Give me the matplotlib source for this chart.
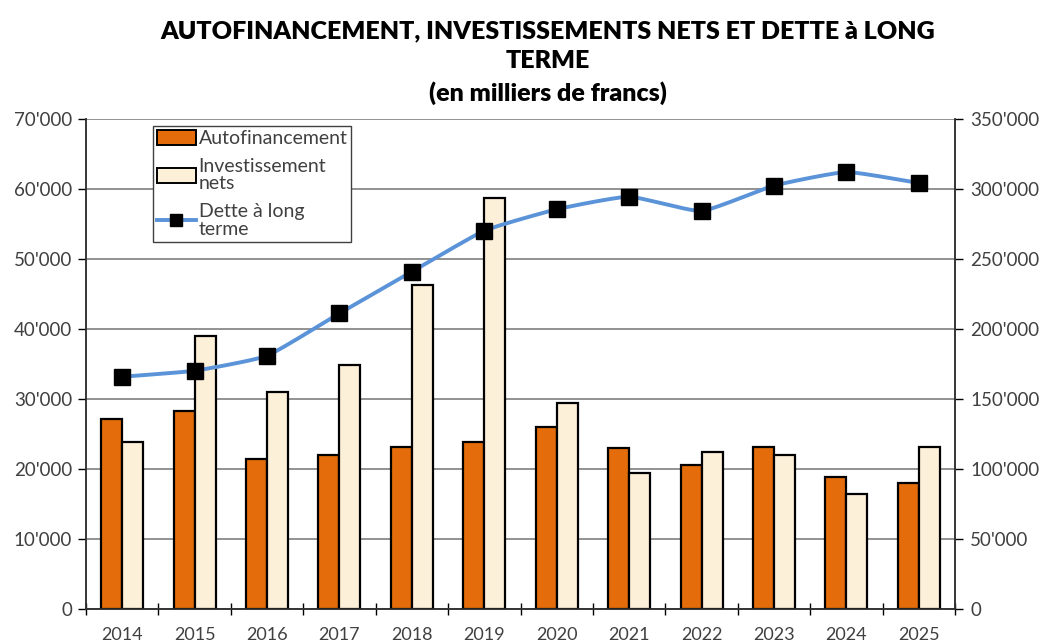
import numpy as np
import matplotlib
matplotlib.use("Agg")
import matplotlib.pyplot as plt
from matplotlib.ticker import FuncFormatter, FixedLocator
from matplotlib.patches import Patch
from matplotlib.lines import Line2D

years = ["2014", "2015", "2016", "2017", "2018", "2019",
         "2020", "2021", "2022", "2023", "2024", "2025"]
autofinancement = [27100, 28300, 21500, 22000, 23100, 23900,
                   26000, 23000, 20600, 23100, 18800, 18000]
investissements = [23900, 39000, 31000, 34800, 46300, 58700,
                   29400, 19400, 22500, 22000, 16500, 23200]
dette = [165900, 170200, 180900, 211200, 240900, 270200,
         285500, 294500, 284300, 302400, 312100, 304300]

label_auto = "Autofinancement"
label_inv = "Investissement\nnets"
label_dette = "Dette à long\nterme"
title = "AUTOFINANCEMENT, INVESTISSEMENTS NETS ET DETTE à LONG\nTERME\n(en milliers de francs)"

plt.rcParams['font.family'] = ['Lato', 'DejaVu Sans']

W, H = 1043, 642
fig = plt.figure(figsize=(W / 100, H / 100), dpi=100)
ax = fig.add_axes([86 / W, 1 - 609 / H, (955 - 86) / W, (609 - 119) / H])
ax2 = ax.twinx()

x = np.arange(len(years))
bw = 0.29
orange = "#E46C0A"
cream = "#FDF0D9"
blue = "#5A93D8"
tickcol = "#404040"

ax.bar(x - bw / 2, autofinancement, bw, color=orange, edgecolor="black", linewidth=1.6, zorder=3)
ax.bar(x + bw / 2, investissements, bw, color=cream, edgecolor="black", linewidth=1.6, zorder=3)

# smoothed line (cardinal spline through data points, low tension)
def cardinal(xs, ys, k=0.45, n=24):
    xs = np.asarray(xs, float)
    ys = np.asarray(ys, float)
    px = np.concatenate([[2 * xs[0] - xs[1]], xs, [2 * xs[-1] - xs[-2]]])
    py = np.concatenate([[2 * ys[0] - ys[1]], ys, [2 * ys[-1] - ys[-2]]])
    outx, outy = [], []
    t = np.linspace(0, 1, n, endpoint=False)
    h00 = 2 * t ** 3 - 3 * t ** 2 + 1
    h10 = t ** 3 - 2 * t ** 2 + t
    h01 = -2 * t ** 3 + 3 * t ** 2
    h11 = t ** 3 - t ** 2
    for i in range(1, len(px) - 2):
        for arr, out in ((px, outx), (py, outy)):
            p0, p1, p2, p3 = arr[i - 1], arr[i], arr[i + 1], arr[i + 2]
            m1 = k * (p2 - p0) / 2
            m2 = k * (p3 - p1) / 2
            out.extend(h00 * p1 + h10 * m1 + h01 * p2 + h11 * m2)
    outx.append(xs[-1]); outy.append(ys[-1])
    return np.array(outx), np.array(outy)

sx, sy = cardinal(x, dette)
ax2.plot(sx, sy, color=blue, linewidth=2.8, zorder=4, solid_capstyle="round")
ax2.plot(x, dette, linestyle="none", marker="s", markersize=11,
         markerfacecolor="black", markeredgecolor="black", zorder=5)

ax.set_xlim(-0.5, len(years) - 0.5)
ax.set_ylim(0, 70000)
ax2.set_ylim(0, 350000)

fmt = FuncFormatter(lambda v, p: f"{int(v):,}".replace(",", "'"))
ax.set_yticks(np.arange(0, 70001, 10000))
ax2.set_yticks(np.arange(0, 350001, 50000))
ax.yaxis.set_major_formatter(fmt)
ax2.yaxis.set_major_formatter(fmt)

ax.set_xticks(x)
ax.set_xticklabels(years)
ax.xaxis.set_minor_locator(FixedLocator(np.arange(-0.5, len(years), 1.0)))
ax.tick_params(axis="x", which="major", length=0, pad=13, labelsize=13, labelcolor=tickcol)
ax.tick_params(axis="x", which="minor", length=9, direction="inout", width=1)
ax.tick_params(axis="y", length=6, width=1, direction="out", labelsize=13.5, labelcolor=tickcol, pad=4)
ax2.tick_params(axis="y", length=6, width=1, direction="out", labelsize=13.5, labelcolor=tickcol, pad=5)

ax.yaxis.grid(True, color="#7f7f7f", linewidth=1.2, zorder=0)
ax.set_axisbelow(True)
for a in (ax, ax2):
    a.spines["top"].set_visible(False)
    for s in ("left", "right", "bottom"):
        a.spines[s].set_color("#303030")
        a.spines[s].set_linewidth(1.1)

handles = [
    Patch(facecolor=orange, edgecolor="black", linewidth=1.4, label=label_auto),
    Patch(facecolor=cream, edgecolor="black", linewidth=1.4, label=label_inv),
    Line2D([0], [0], color=blue, linewidth=2.8, marker="s", markersize=9,
           markerfacecolor="black", markeredgecolor="black", label=label_dette),
]
leg = ax2.legend(handles=handles, loc="upper left",
                 bbox_to_anchor=((153 - 86) / 869, (609 - 126) / 490),
                 frameon=True, fancybox=False, edgecolor="#404040", framealpha=1,
                 fontsize=14, handlelength=2.0, handleheight=0.8, handletextpad=0.15,
                 borderpad=0.2, labelspacing=0.55, borderaxespad=0)
leg.get_frame().set_linewidth(1.0)
for t in leg.get_texts():
    t.set_color(tickcol)
    t.set_linespacing(1.05)
leg.set_zorder(10)

fig.text(548 / W, 1 - 20 / H, title, ha="center", va="top", fontsize=18,
         fontweight="heavy", linespacing=1.45)

fig.savefig("out.png", dpi=100)
